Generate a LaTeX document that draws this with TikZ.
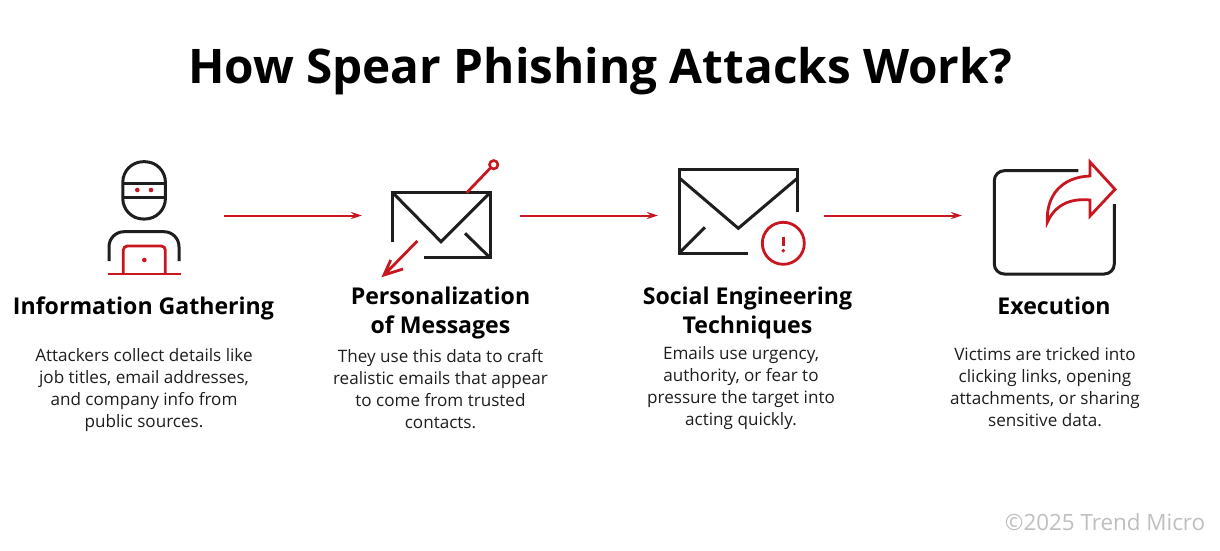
\documentclass[tikz,border=0pt]{standalone}
\usepackage{fontspec}
\setmainfont{Open Sans}
\usetikzlibrary{arrows.meta}
\definecolor{tmred}{HTML}{C8171F}
\definecolor{ink}{HTML}{1E1E1E}
\definecolor{greyc}{HTML}{BDBFC1}
\tikzset{
 x=1pt,y=-1pt,
 blk/.style={draw=ink,line width=3pt},
 rd/.style={draw=tmred,line width=2.8pt},
 conn/.style={draw=tmred,line width=2pt,-{Stealth[length=11pt,width=7pt]}},
 head/.style={font=\fontsize{23.1}{29}\selectfont\bfseries,align=center,text=black,inner sep=0pt},
 body/.style={font=\fontsize{17.1}{22}\selectfont,align=center,text=ink,inner sep=0pt},
}
\begin{document}
\begin{tikzpicture}
\useasboundingbox (0,0) rectangle (1220,550);
\fill[white] (0,0) rectangle (1220,550);
\node[font=\fontsize{47.7}{60}\selectfont\bfseries,text=black,inner sep=0pt] (title) at (600,71.5) {How Spear Phishing Attacks Work?};
% icon 1
\draw[blk,rounded corners=20.5pt] (122.8,161.7) rectangle (165.4,219);
\draw[blk] (122.8,183.3) -- (165.4,183.3) (122.8,197.3) -- (165.4,197.3);
\fill[tmred] (137.3,190) circle (2.3) (151,190) circle (2.3) (144.3,260) circle (2.3);
\draw[blk,rounded corners=15pt] (109,261) -- (109,231.7) -- (179,231.7) -- (179,261);
\draw[rd] (108,274) -- (181,274);
\draw[rd,rounded corners=4pt] (123.3,274) -- (123.3,246) -- (165.3,246) -- (165.3,274);
% icon 2
\draw[blk,line join=miter] (392.7,242.3) -- (392.7,192.7) -- (490,192.7) -- (490,257.7) -- (424,257.7);
\draw[blk] (392.7,192.7) -- (441,241.7) -- (490,192.7) (465,233.3) -- (490,257.7);
\draw[rd] (466.7,192.7) -- (490.2,168.2);
\draw[rd,line width=2.6pt] (493.7,164.7) circle (4.2);
\draw[rd] (417.3,241) -- (384,275) (390.7,260) -- (384,275) -- (403,269);
% icon 3
\draw[blk] (797.3,212.3) -- (797.3,169) -- (679,169) -- (679,253.3) -- (747.7,253.3);
\draw[blk] (679,177.7) -- (738.3,228.3) -- (797.3,178.3) (679,253.3) -- (705,227.3);
\draw[rd] (783.3,243.3) circle (21);
\draw[rd] (783.3,236.7) -- (783.3,245.7);
\fill[tmred] (783.3,250.7) circle (1.9);
% icon 4
\draw[blk,rounded corners=10pt] (1078.3,170.7) -- (994.3,170.7) -- (994.3,274) -- (1114.3,274) -- (1114.3,204);
\draw[rd,line join=miter] (1115,189.3) -- (1090,162) -- (1090,176) .. controls (1062,177) and (1046,195) .. (1047.3,222.3) .. controls (1055,205) and (1070,198) .. (1090,200) -- (1090,216) -- cycle;
% connectors
\coordinate (a1) at (224,215.5); \coordinate (b1) at (362,215.5);
\coordinate (a2) at (520,215.5); \coordinate (b2) at (658,215.5);
\coordinate (a3) at (824,215.5); \coordinate (b3) at (962,215.5);
\draw[conn] (a1) -- (b1);
\draw[conn] (a2) -- (b2);
\draw[conn] (a3) -- (b3);
% text
\node[head] (h1) at (143.5,308) {Information Gathering};
\node[head] (h2) at (440.5,313) {Personalization\\of Messages};
\node[head] (h3) at (747.5,313) {Social Engineering\\Techniques};
\node[head] (h4) at (1054,305.5) {Execution};
\node[body] (t1) at (144,390) {Attackers collect details like\\job titles, email addresses,\\and company info from\\public sources.};
\node[body] (t2) at (440.5,389) {They use this data to craft\\realistic emails that appear\\to come from trusted\\contacts.};
\node[body] (t3) at (741,388) {Emails use urgency,\\authority, or fear to\\pressure the target into\\acting quickly.};
\node[body] (t4) at (1045,387) {Victims are tricked into\\clicking links, opening\\attachments, or sharing\\sensitive data.};
\node[font=\fontsize{22.4}{25}\selectfont,text=greyc,inner sep=0pt] (copy) at (1105,522) {©2025 Trend Micro};
\end{tikzpicture}
\end{document}
